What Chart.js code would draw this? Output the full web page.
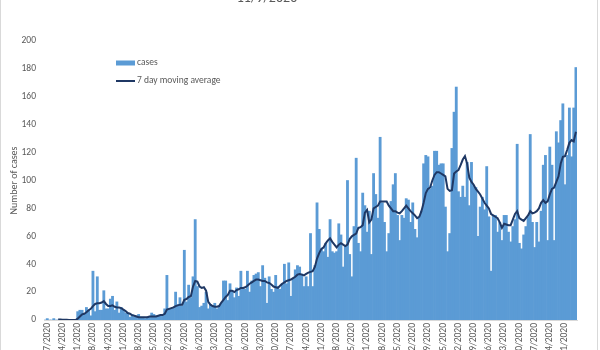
<!DOCTYPE html>
<html>
<head>
<meta charset="utf-8">
<script src="https://cdn.jsdelivr.net/npm/chart.js@4.4.0/dist/chart.umd.min.js"></script>
<style>
  html, body { margin: 0; padding: 0; background: #fff; overflow: hidden; width: 600px; height: 350px; }
  #frame { position: absolute; left: 0; top: -5px; width: 596px; height: 400px; border: 1px solid #d9d9d9; }
  #wrap { position: absolute; left: 0; top: -20px; width: 600px; height: 390px; }
</style>
</head>
<body>
<div id="frame"></div>
<div id="wrap"><canvas id="chart"></canvas></div>
<script>
const titleText = '11/9/2020';
const yTitle = 'Number of cases';
const seriesNames = ['cases', '7 day moving average'];

// weekly dates that carry a label on the x axis
const tickLabels = [
  '3/7/2020', '3/14/2020', '3/21/2020', '3/28/2020', '4/4/2020', '4/11/2020', '4/18/2020', '4/25/2020',
  '5/2/2020', '5/9/2020', '5/16/2020', '5/23/2020', '5/30/2020', '6/6/2020', '6/13/2020', '6/20/2020',
  '6/27/2020', '7/4/2020', '7/11/2020', '7/18/2020', '7/25/2020', '8/1/2020', '8/8/2020', '8/15/2020',
  '8/22/2020', '8/29/2020', '9/5/2020', '9/12/2020', '9/19/2020', '9/26/2020', '10/3/2020', '10/10/2020',
  '10/17/2020', '10/24/2020', '10/31/2020'
];

// daily cases, one per day from 3/6/2020
const cases = [
  0, 1, 0, 0, 1, 0, 0, 0, 0, 0, 0, 0, 0, 0, 0,
  6, 7, 7, 4, 9, 7, 3, 35, 6, 31, 7, 7, 21, 8, 8,
  15, 17, 7, 13, 5, 9, 7, 5, 4, 2, 4, 2, 3, 4, 2,
  2, 1, 2, 2, 5, 4, 3, 3, 3, 3, 8, 32, 8, 8, 9,
  20, 11, 16, 10, 50, 13, 25, 16, 31, 72,
  24, 9, 10, 12, 20, 8, 11, 10, 12, 8, 10, 12, 28, 28, 14,
  26, 21, 16, 23, 17, 35, 23, 22, 35, 20, 28, 32,
  33, 34, 24, 39, 30, 12, 31, 22, 20, 32, 24, 22, 26, 40, 26,
  41, 17, 30, 36, 39, 38, 33, 24, 31, 24, 62, 24, 39, 84, 65,
  51, 49, 55, 45, 72, 49, 48, 49, 69, 61, 38, 53, 100, 47, 31, 67,
  116, 55, 49, 91, 82, 63, 78, 47, 105, 90, 73, 131, 84, 70, 49,
  62, 85, 97, 105, 75, 57, 75, 73, 87, 86, 70, 84, 65, 59, 73,
  78, 112, 118, 117, 94, 96, 121, 121, 111, 112, 112, 81, 49, 62, 123, 149,
  167, 92, 88, 96, 88, 113, 82, 113, 96, 95, 60, 81, 88, 79, 110,
  74, 35, 75, 75, 63, 70, 57, 75, 75, 63, 56, 67, 72, 126, 55,
  51, 61, 67, 74, 133, 70, 52, 70, 56, 78, 111, 118, 57, 124, 111,
  57, 135, 127, 143, 155, 97, 118, 152, 117, 152, 181
];

// moving average line
const movingAvg = [
  null, null, null, null, null, null,
  0.3, 0.3, 0.1, 0.1, 0.1, 0, 0, 0, 0,
  1, 2.5, 4, 4.5, 5.5, 7, 8, 10, 11.5, 12, 12, 12.5, 13.5, 11.5, 10,
  10, 10.5, 9.5, 9, 9, 8.5, 7.5, 6.5, 5, 4.5, 3.5, 3, 2.5, 2, 2,
  2, 2, 2, 2.5, 2.5, 2.5, 2.5, 3, 3.5, 3.5, 4.5, 7.5, 8, 8.5, 9,
  10, 10.5, 11, 11, 14.5, 15, 16.5, 17, 24, 28,
  27.5, 24, 23, 23.5, 21, 13, 11, 10, 9.5, 9.5, 10, 12.5, 14.5, 16.5, 18,
  21, 21, 20, 21.5, 22, 23, 23, 23.5, 24.5, 26, 27, 28,
  29, 29, 28.5, 28, 28, 27, 26.5, 25.5, 24, 23.5, 23, 24.5, 26, 27, 28,
  28.5, 29, 30, 31, 32.5, 33, 32.5, 32, 33, 34, 34.5, 35, 38, 44, 48,
  51, 52, 55, 57, 58.5, 56, 54, 52, 54, 55, 54, 53, 54, 58, 60, 61,
  62, 66, 66.5, 68, 77, 79, 70, 72, 80, 81, 82, 85, 85, 85, 85,
  82, 80, 78, 78, 77, 76.5, 78, 80, 82, 80, 78, 76.5, 75, 73, 74,
  78, 84, 91, 94, 95, 100, 104, 106, 106, 105, 104, 103, 94, 92.5, 93, 105,
  106.5, 107.5, 111, 115, 117.5, 112, 102, 99, 97, 94, 92, 90, 87, 84, 82,
  80, 76, 75, 74, 73, 70, 66, 69, 68.5, 68, 68, 72, 76, 78, 73,
  72, 71, 73, 75, 78, 76.5, 77, 78, 80, 84, 86, 84, 85, 90, 94,
  95, 99, 103, 112, 117, 117.5, 122, 127, 129, 128, 135
];

const days = [];
for (let i = 0; i < cases.length; i++) {
  const d = new Date(2020, 2, 6 + i);
  days.push((d.getMonth() + 1) + '/' + d.getDate() + '/' + d.getFullYear());
}

const barColor = '#5b9bd5';
const lineColor = '#1f3864';
const textColor = '#595959';
const fontFamily = "Carlito, 'Open Sans', sans-serif";

// title and legend drawn in Excel style, legend sits inside the plot
const excelBits = {
  id: 'excelBits',
  afterDraw(chart) {
    const ctx = chart.ctx;
    const area = chart.chartArea;
    ctx.save();
    ctx.fillStyle = textColor;
    ctx.font = '14px ' + fontFamily;
    ctx.textAlign = 'center';
    ctx.textBaseline = 'alphabetic';
    ctx.fillText(titleText, 267, 22);

    const lx = area.left + 72, ly = area.top + 22;
    ctx.fillStyle = barColor;
    ctx.fillRect(lx, ly - 2.5, 19, 5);
    ctx.strokeStyle = lineColor;
    ctx.lineWidth = 2;
    ctx.beginPath();
    ctx.moveTo(lx, ly + 18);
    ctx.lineTo(lx + 19, ly + 18);
    ctx.stroke();
    ctx.fillStyle = textColor;
    ctx.font = '9.5px ' + fontFamily;
    ctx.textAlign = 'left';
    ctx.textBaseline = 'middle';
    ctx.fillText(chart.data.datasets[1].label, lx + 21, ly);
    ctx.fillText(chart.data.datasets[0].label, lx + 21, ly + 18);
    ctx.restore();
  }
};

new Chart(document.getElementById('chart'), {
  type: 'bar',
  data: {
    labels: days,
    datasets: [
      {
        type: 'line',
        label: seriesNames[1],
        data: movingAvg,
        borderColor: lineColor,
        borderWidth: 2,
        pointRadius: 0,
        fill: false,
        order: 0
      },
      {
        type: 'bar',
        label: seriesNames[0],
        data: cases,
        backgroundColor: barColor,
        barPercentage: 1,
        categoryPercentage: 1,
        order: 1
      }
    ]
  },
  options: {
    responsive: true,
    maintainAspectRatio: false,
    animation: false,
    layout: { padding: { top: 61, right: 23, left: 0, bottom: 0 } },
    plugins: {
      legend: { display: false },
      tooltip: { enabled: false },
      title: { display: false }
    },
    scales: {
      x: {
        grid: { display: false, drawTicks: false },
        border: { display: true, color: '#d9d9d9' },
        ticks: {
          autoSkip: false,
          minRotation: 90,
          maxRotation: 90,
          padding: 3,
          color: textColor,
          font: { family: fontFamily, size: 9.5 },
          callback(value) {
            const l = this.getLabelForValue(value);
            return tickLabels.includes(l) ? l : '';
          }
        },
        afterFit(scale) { scale.height = 50; }
      },
      y: {
        min: 0,
        max: 200,
        grid: { display: false, drawTicks: false },
        border: { display: false },
        ticks: {
          stepSize: 20,
          padding: 8,
          color: textColor,
          font: { family: fontFamily, size: 9.5 }
        },
        title: {
          display: true,
          text: yTitle,
          color: textColor,
          font: { family: fontFamily, size: 10 },
          padding: { top: 8, bottom: 0 }
        },
        afterFit(scale) { scale.width = 44; }
      }
    }
  },
  plugins: [excelBits]
});
</script>
</body>
</html>
